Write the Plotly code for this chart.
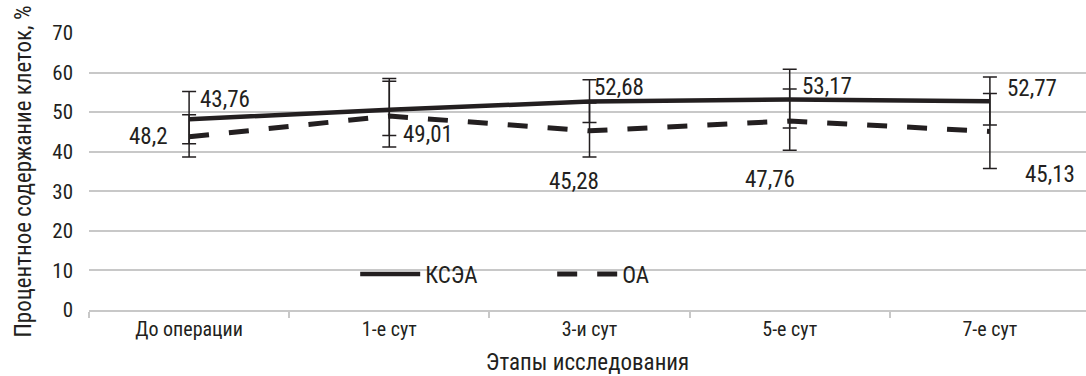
import plotly.graph_objects as go

categories = ["До операции", "1-е сут", "3-и сут", "5-е сут", "7-е сут"]

kcea_values = [48.2, 50.6, 52.68, 53.17, 52.77]
kcea_err_plus = [7.0, 7.2, 5.5, 7.7, 6.1]
kcea_err_minus = [6.2, 6.5, 5.3, 7.2, 6.0]
kcea_show_label = [True, False, True, True, True]

oa_values = [43.76, 49.01, 45.28, 47.76, 45.13]
oa_err_plus = [5.6, 9.5, 7.0, 8.1, 9.6]
oa_err_minus = [5.1, 7.8, 6.6, 7.4, 9.4]
oa_show_label = [True, True, True, True, True]

y_ticks = [0, 10, 20, 30, 40, 50, 60, 70]

# label offsets in px (xshift, yshift)
kcea_label_shift = [(-41, -17), (0, 0), (29, 14), (37, 13), (42, 13)]
oa_label_shift = [(36, 37), (39, -18), (-16, -51), (-20, -58), (60, -43)]

FONT = "Roboto Condensed, Liberation Sans Narrow, sans-serif"
TXT = "#231f20"
GRID = "#c8c8c8"

fig = go.Figure()
fig.add_trace(go.Scatter(
    x=categories, y=kcea_values, name="КСЭА", mode="lines",
    line=dict(color=TXT, width=4.5),
    error_y=dict(type="data", symmetric=False, array=kcea_err_plus,
                 arrayminus=kcea_err_minus, color=TXT, thickness=1.5, width=7),
))
fig.add_trace(go.Scatter(
    x=categories, y=oa_values, name="ОА", mode="lines",
    line=dict(color=TXT, width=5, dash="20px,20px"),
    error_y=dict(type="data", symmetric=False, array=oa_err_plus,
                 arrayminus=oa_err_minus, color=TXT, thickness=1.5, width=7),
))

def fmt(v):
    s = f"{v:.2f}".rstrip("0").rstrip(".")
    return s.replace(".", ",")

for vals, show, shifts in [(kcea_values, kcea_show_label, kcea_label_shift),
                           (oa_values, oa_show_label, oa_label_shift)]:
    for i, (c, v) in enumerate(zip(categories, vals)):
        if not show[i]:
            continue
        fig.add_annotation(x=c, y=v, text=fmt(v), showarrow=False,
                           xshift=shifts[i][0], yshift=shifts[i][1],
                           font=dict(family=FONT, size=23, color=TXT))

fig.update_layout(
    width=1086, height=376,
    margin=dict(l=89, r=0, t=33, b=66, autoexpand=False),
    paper_bgcolor="white", plot_bgcolor="white",
    font=dict(family=FONT, size=21, color=TXT),
    showlegend=True,
    legend=dict(orientation="h", x=0.267, y=0.13, xanchor="left", yanchor="middle",
                bgcolor="rgba(0,0,0,0)", font=dict(family=FONT, size=23, color=TXT),
                entrywidth=122, itemwidth=60),
    xaxis=dict(
        type="category", range=[-0.5, 4.48], automargin=False,
        showgrid=False, showline=True, linecolor=GRID, linewidth=1.5,
        ticks="outside", tickson="boundaries", ticklen=6, tickcolor=GRID, tickwidth=1.5,
        tickfont=dict(family=FONT, size=20, color=TXT),
        title=dict(text="Этапы исследования", font=dict(family=FONT, size=23, color=TXT), standoff=18),
    ),
    yaxis=dict(
        range=[0, 70], tickvals=y_ticks, showgrid=True, gridcolor=GRID, gridwidth=1.5,
        zeroline=False, showline=False, ticks="", automargin=False,
        tickfont=dict(family=FONT, size=21, color=TXT),
        ticklabelstandoff=15,
        title=dict(text="Процентное содержание клеток, %", font=dict(family=FONT, size=23, color=TXT), standoff=14),
    ),
)

fig.write_html("out.html", config={"displayModeBar": False},
               post_script="document.body.style.margin='0';document.body.style.padding='0';")
